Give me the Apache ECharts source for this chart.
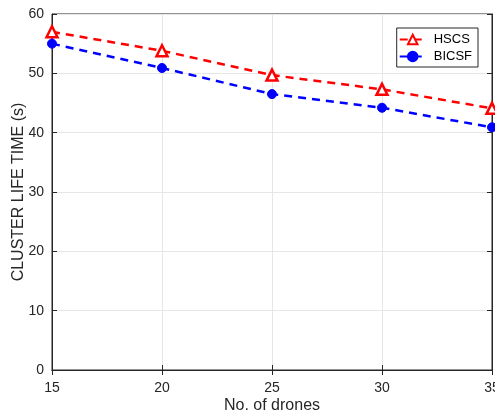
<!DOCTYPE html>
<html><head><meta charset="utf-8">
<script src="https://cdn.jsdelivr.net/npm/echarts@6/dist/echarts.min.js"></script>
<style>html,body{margin:0;padding:0;background:#fff}#c{width:495px;height:416px}</style>
</head><body><div id="c"></div>
<script>
const categories = [15, 20, 25, 30, 35];
const hscs = [57.0, 53.8, 49.7, 47.3, 44.1];
const bicsf = [55.0, 50.9, 46.5, 44.2, 40.9];
const xName = 'No. of drones';
const yName = 'CLUSTER LIFE TIME (s)';
const font = 'Liberation Sans, Arial, sans-serif';
const txt = '#262626';

const chart = echarts.init(document.getElementById('c'), null, {renderer:'canvas'});
const pairs = a => categories.map((x,i)=>[x,a[i]]);
const axisCommon = {
  axisLine:{show:true,lineStyle:{color:txt,width:1}},
  axisTick:{show:true,inside:true,length:5,lineStyle:{color:txt}},
};
chart.setOption({
  animation:false,
  grid:{left:52,right:3,top:14,bottom:46,outerBoundsMode:'none',containLabel:false,show:true,borderColor:txt,borderWidth:1,backgroundColor:'#fff'},
  legend:{
    right:17, top:28, orient:'vertical', itemGap:4, itemWidth:26, itemHeight:12,
    backgroundColor:'#fff', borderColor:'#262626', borderWidth:1, padding:[5,6,4,2],
    textStyle:{fontFamily:font,fontSize:13,color:'#000',padding:[0,0,0,3]},
    data:['HSCS','BICSF']
  },
  xAxis:[{
    type:'value', min:15, max:35, interval:5,
    name:xName, nameLocation:'middle', nameGap:28, nameMoveOverlap:false,
    nameTextStyle:{fontFamily:font,fontSize:16,color:txt},
    axisLabel:{fontFamily:font,fontSize:14,color:txt,margin:11},
    splitLine:{show:true,lineStyle:{color:'#e6e6e6'}},
    ...axisCommon
  },{
    type:'value', min:15, max:35, interval:5, position:'top',
    axisLabel:{show:false}, splitLine:{show:false}, ...axisCommon
  }],
  yAxis:[{
    type:'value', min:0, max:60, interval:10,
    name:yName, nameLocation:'middle', nameGap:25, nameMoveOverlap:false,
    nameTextStyle:{fontFamily:font,fontSize:16,color:txt},
    axisLabel:{fontFamily:font,fontSize:14,color:txt,margin:8},
    splitLine:{show:true,lineStyle:{color:'#e6e6e6'}},
    ...axisCommon
  },{
    type:'value', min:0, max:60, interval:10, position:'right',
    axisLabel:{show:false}, splitLine:{show:false}, ...axisCommon
  }],
  series:[{
    name:'HSCS', type:'line', data:pairs(hscs),
    symbol:'triangle', symbolSize:11,
    itemStyle:{color:'#fff',borderColor:'#ff0000',borderWidth:2.5},
    lineStyle:{color:'#ff0000',width:2.5,type:[8,6]},
    z:3
  },{
    name:'BICSF', type:'line', data:pairs(bicsf),
    symbol:'circle', symbolSize:9,
    itemStyle:{color:'#0000ff',borderColor:'#0000ff',borderWidth:1},
    lineStyle:{color:'#0000ff',width:2.5,type:[8,6]},
    z:3
  }]
});
</script></body></html>
